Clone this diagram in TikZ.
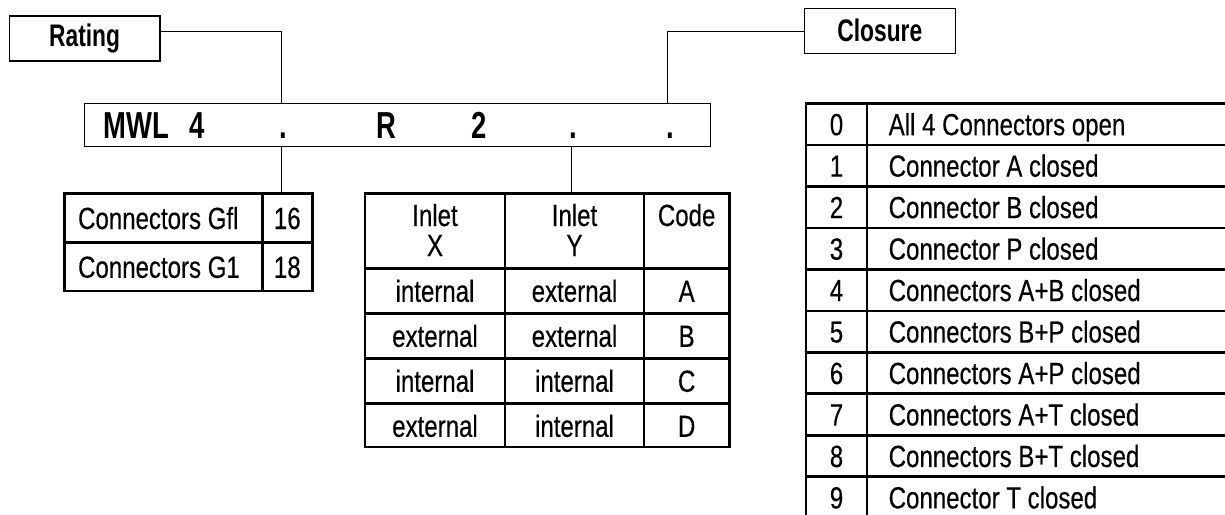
\documentclass[tikz,border=0pt]{standalone}
\usepackage{fontspec}
\setmainfont{Liberation Sans}[FakeStretch=0.786,FakeBold=0.35]
\newfontfamily\condbold{Liberation Sans}[FakeStretch=0.73]
\newcommand\txtfont{\fontsize{15.3}{18}\selectfont}
\newcommand\lblfont{\condbold\bfseries\fontsize{15.6}{18}\selectfont}
\newcommand\mwlfont{\condbold\bfseries\fontsize{18.8}{21}\selectfont}
\begin{document}
\begin{tikzpicture}[x=0.5pt,y=-0.5pt,
  lbl/.style={draw, line width=0.65pt, inner sep=0, font=\lblfont},
  tbl/.style={draw, line width=1.35pt, inner sep=0},
  grid/.style={line width=1.35pt},
  conn/.style={line width=0.5pt},
  txt/.style={inner sep=0, anchor=base, font=\txtfont},
  ltxt/.style={txt, anchor=base west},
  mwlt/.style={inner sep=0, anchor=base, font=\mwlfont}]
\useasboundingbox (0,0) rectangle (1225,514);
\clip (0,0) rectangle (1225,514);

% label boxes
\node[lbl, minimum width=75.35pt, minimum height=22.5pt] (rating) at (84.65,38.5) {Rating};
\node[lbl, minimum width=75.5pt, minimum height=22.5pt] (closure) at (879.8,30.8) {Closure};

% type code box
\node[draw, line width=0.65pt, inner sep=0, minimum width=313pt, minimum height=21.7pt] (mwl) at (397.3,125) {};
\node[mwlt, anchor=base west] (t1) at (103.3,138.3) {MWL};
\node[mwlt] (t2) at (196.7,138.3) {4};
\node[mwlt] (d1) at (283,138.3) {.};
\node[mwlt] (t3) at (386,138.3) {R};
\node[mwlt] (t4) at (478.7,138.3) {2};
\node[mwlt] (d2) at (573,138.3) {.};
\node[mwlt] (d3) at (670,138.3) {.};

% tables
\node[tbl, minimum width=124pt, minimum height=48.85pt] (lt) at (188.3,242.15) {};
\node[tbl, minimum width=182.15pt, minimum height=126.85pt] (mt) at (547.15,320.15) {};
\node[tbl, minimum width=219.5pt, minimum height=207.35pt] (rt) at (1025.5,310.85) {};

% connectors
\coordinate (j1) at (281.7,31.7);
\coordinate (j2) at (667.7,31.7);
\coordinate (j3) at (281.7,0);
\coordinate (j4) at (571,0);
\draw[conn] (rating.east |- j1) -- (j1) -- (j1 |- mwl.north);
\draw[conn] (closure.west |- j2) -- (j2) -- (j2 |- mwl.north);
\draw[conn] (j3 |- mwl.south) -- (j3 |- lt.north);
\draw[conn] (j4 |- mwl.south) -- (j4 |- mt.north);

% left table
\draw[grid] (262.3,0 |- lt.north) -- (262.3,0 |- lt.south);
\draw[grid] (lt.west |- 0,242.7) -- (lt.east |- 0,242.7);
\node[ltxt] at (77.7,229) {Connectors Gfl};
\node[txt] at (287.3,229) {16};
\node[ltxt] at (77.7,277.8) {Connectors G1};
\node[txt] at (287.3,277.8) {18};

% middle table
\draw[grid] (505,0 |- mt.north) -- (505,0 |- mt.south);
\draw[grid] (644,0 |- mt.north) -- (644,0 |- mt.south);
\foreach \yy in {268.3,313.3,358.3,403.3}
  \draw[grid] (mt.west |- 0,\yy) -- (mt.east |- 0,\yy);
\node[txt] at (435,226) {Inlet};
\node[txt] at (435,256) {X};
\node[txt] at (574.5,226) {Inlet};
\node[txt] at (574.5,256) {Y};
\node[txt] at (686.65,226) {Code};
\foreach \a/\b/\c [count=\i from 0] in {internal/external/A, external/external/B, internal/internal/C, external/internal/D}{
  \pgfmathsetmacro\by{268.3+45*\i+22.5+11}
  \node[txt] at (435,\by) {\a};
  \node[txt] at (574.5,\by) {\b};
  \node[txt] at (686.65,\by) {\c};
}

% right table
\draw[grid] (867,0 |- rt.north) -- (867,0 |- rt.south);
\foreach \i in {1,...,9}{
  \pgfmathsetmacro\ly{103.5+41.47*\i}
  \draw[grid] (rt.west |- 0,\ly) -- (rt.east |- 0,\ly);
}
\foreach \n/\t [count=\i from 0] in {0/All 4 Connectors open, 1/Connector A closed, 2/Connector B closed, 3/Connector P closed, 4/Connectors A+B closed, 5/Connectors B+P closed, 6/Connectors A+P closed, 7/Connectors A+T closed, 8/Connectors B+T closed, 9/Connector T closed}{
  \pgfmathsetmacro\by{103.5+41.47*\i+20.7+11}
  \node[txt] at (836.5,\by) {\n};
  \node[ltxt] at (888.3,\by) {\t};
}
\end{tikzpicture}
\end{document}
